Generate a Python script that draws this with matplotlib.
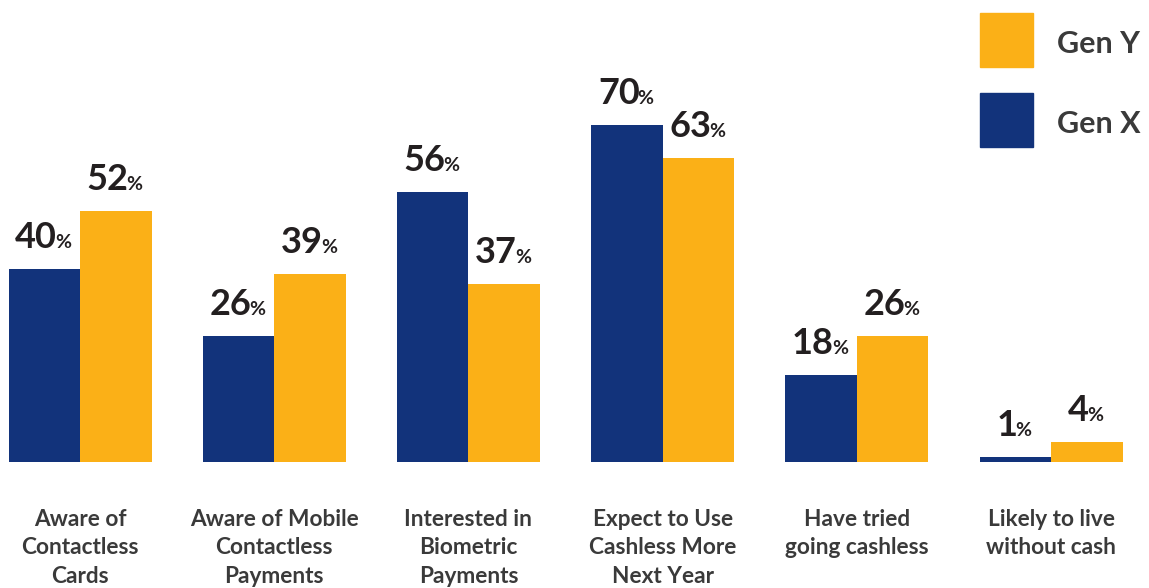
import matplotlib.pyplot as plt
import matplotlib.transforms as mtransforms
from matplotlib.patches import Rectangle
import numpy as np

plt.rcParams['font.family'] = ['Lato', 'DejaVu Sans']

categories = [
    'Aware of\nContactless\nCards',
    'Aware of Mobile\nContactless\nPayments',
    'Interested in\nBiometric\nPayments',
    'Expect to Use\nCashless More\nNext Year',
    'Have tried\ngoing cashless',
    'Likely to live\nwithout cash',
]
gen_x = [40, 26, 56, 70, 18, 1]
gen_y = [52, 39, 37, 63, 26, 4]
series_names = ['Gen Y', 'Gen X']

NAVY = '#12337b'
GOLD = '#fbb017'
LABEL = '#3a3a3a'
NUM = '#231f20'

W, H = 1149, 588
fig = plt.figure(figsize=(W / 100, H / 100), dpi=100)
ax = fig.add_axes([0, 0, 1, 1])
ax.axis('off')

# pixel layout: group centres 194 px apart, 4.81 px per percent
step = 194.2
ppu = 4.81
ax.set_xlim(-80 / step, (W - 80) / step)
ax.set_ylim(-126.5 / ppu, (H - 126.5) / ppu)

x = np.arange(len(categories))
w = 71.5 / step
ax.bar(x - w / 2, gen_x, w, color=NAVY)
ax.bar(x + w / 2, gen_y, w, color=GOLD)

fig.canvas.draw()
renderer = fig.canvas.get_renderer()


def text_width(s, size):
    t = ax.text(0, 0, s, fontsize=size, fontweight='bold')
    wd = t.get_window_extent(renderer).width
    t.remove()
    return wd


NUM_SIZE = 26
PCT_SIZE = 14


def pct_label(cx, val):
    num = str(val)
    wn = text_width(num, NUM_SIZE)
    wp = text_width('%', PCT_SIZE)
    left = -(wn + wp) / 2
    t1 = mtransforms.offset_copy(ax.transData, fig, x=left, y=21, units='dots')
    t2 = mtransforms.offset_copy(ax.transData, fig, x=left + wn - 2, y=21, units='dots')
    ax.text(cx, val, num, transform=t1, ha='left', va='baseline',
            fontsize=NUM_SIZE, fontweight='bold', color=NUM)
    ax.text(cx, val, '%', transform=t2, ha='left', va='baseline',
            fontsize=PCT_SIZE, fontweight='bold', color=NUM)


for i in range(len(categories)):
    pct_label(x[i] - w / 2, gen_x[i])
    pct_label(x[i] + w / 2, gen_y[i])

# category names under the baseline
lab_tr = mtransforms.offset_copy(ax.transData, fig, x=0, y=-47, units='dots')
for i, c in enumerate(categories):
    ax.text(x[i], 0, c, transform=lab_tr, ha='center', va='top',
            fontsize=16.3, fontweight='bold', color=LABEL, linespacing=1.45)

# legend keys, drawn in pixel coordinates at the top right
px = mtransforms.IdentityTransform()
for k, (name, col) in enumerate(zip(series_names, [GOLD, NAVY])):
    top = 13 + 80 * k
    fig.add_artist(Rectangle((980, H - top - 54), 53, 54, color=col, transform=px))
    fig.text(1057, H - top - 40, name, transform=px, ha='left', va='baseline',
             fontsize=22, fontweight='bold', color=LABEL)

fig.savefig('out.png', dpi=100)
